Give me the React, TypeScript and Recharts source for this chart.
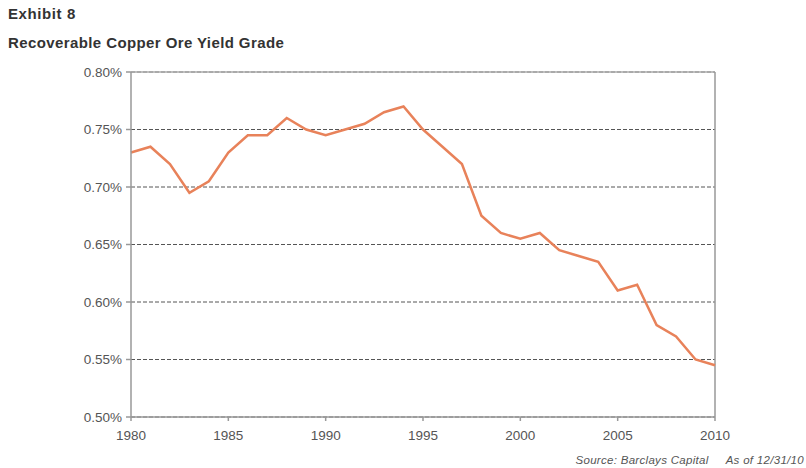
import React from 'react';
import { LineChart, Line, XAxis, YAxis, CartesianGrid, ReferenceLine } from 'recharts';

const years = [1980,1981,1982,1983,1984,1985,1986,1987,1988,1989,1990,1991,1992,1993,1994,1995,1996,1997,1998,1999,2000,2001,2002,2003,2004,2005,2006,2007,2008,2009,2010];
const yieldGrade = [0.73,0.735,0.72,0.695,0.705,0.73,0.745,0.745,0.76,0.75,0.745,0.75,0.755,0.765,0.77,0.75,0.735,0.72,0.675,0.66,0.655,0.66,0.645,0.64,0.635,0.61,0.615,0.58,0.57,0.55,0.545];
const xTicks = [1980,1985,1990,1995,2000,2005,2010];
const yTicks = [0.5,0.55,0.6,0.65,0.7,0.75,0.8];

const data = years.map((y, i) => ({ year: y, value: yieldGrade[i] }));

const font = '"Liberation Sans", Arial, sans-serif';

export default function App() {
  return (
    <div style={{ position: 'absolute', left: 0, top: 0, width: 806, height: 468, background: '#fff', fontFamily: font }}>
      <div style={{ position: 'absolute', left: 8, top: 5, fontSize: 15, fontWeight: 'bold', color: '#333', letterSpacing: 0.6 }}>Exhibit 8</div>
      <div style={{ position: 'absolute', left: 8, top: 34, fontSize: 15, fontWeight: 'bold', color: '#333', letterSpacing: 0.4 }}>Recoverable Copper Ore Yield Grade</div>
      <LineChart width={806} height={468} data={data} margin={{ top: 72, right: 91, bottom: 21, left: 0 }}>
        <CartesianGrid vertical={false} stroke="#555" strokeDasharray="4 2" />
        <XAxis
          dataKey="year"
          type="number"
          domain={[1980, 2010]}
          ticks={xTicks}
          height={30}
          stroke="#999"
          strokeWidth={1.5}
          tickSize={4}
          tick={{ fill: '#555', fontSize: 13.5, fontFamily: font }}
          tickMargin={9}
        />
        <YAxis
          type="number"
          domain={[0.5, 0.8]}
          ticks={yTicks}
          width={131}
          stroke="#999"
          strokeWidth={1.5}
          tickSize={5}
          tickFormatter={(v: number) => `${v.toFixed(2)}%`}
          tick={{ fill: '#555', fontSize: 13.5, fontFamily: font }}
          tickMargin={4}
        />
        <ReferenceLine y={0.8} stroke="#aaa" strokeWidth={1.5} />
        <ReferenceLine x={2010} stroke="#999" strokeWidth={1.5} />
        <Line type="linear" dataKey="value" stroke="#E8825A" strokeWidth={2.5} dot={false} isAnimationActive={false} />
      </LineChart>
      <div style={{ position: 'absolute', right: 2, top: 454, fontSize: 11.5, fontStyle: 'italic', color: '#555', whiteSpace: 'pre', letterSpacing: 0.3 }}>{'Source: Barclays Capital     As of 12/31/10'}</div>
    </div>
  );
}
